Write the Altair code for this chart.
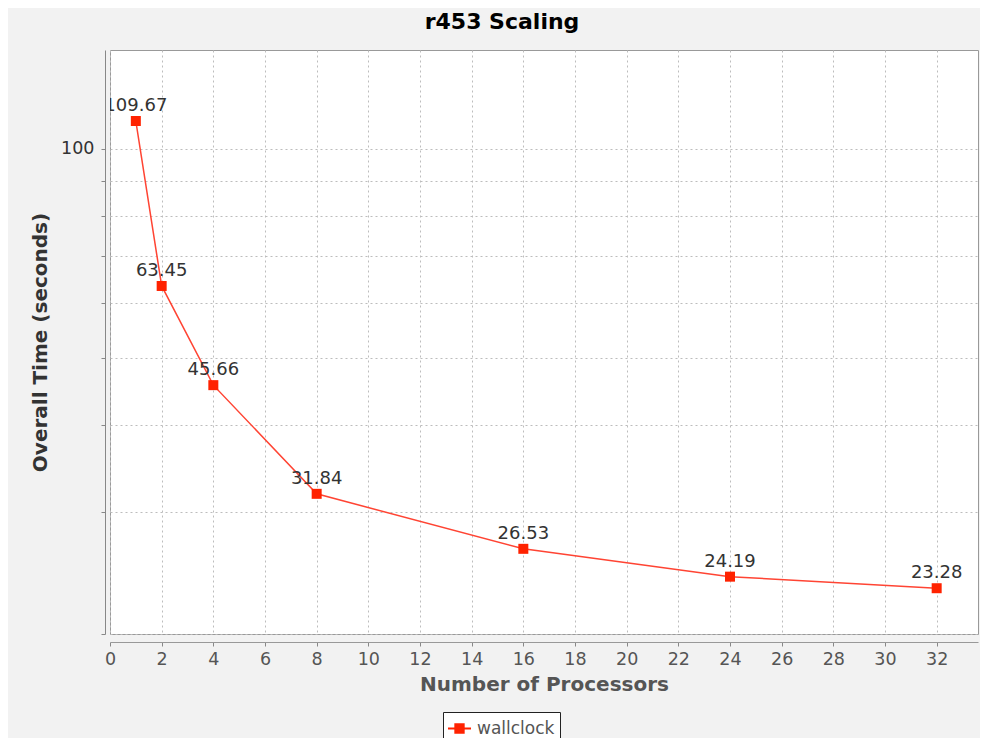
import altair as alt
import pandas as pd

# ---- data ----
processors = [1, 2, 4, 8, 16, 24, 32]
wallclock = [109.67, 63.45, 45.66, 31.84, 26.53, 24.19, 23.28]
point_labels = ["109.67", "63.45", "45.66", "31.84", "26.53", "24.19", "23.28"]
series = ["wallclock"] * len(processors)
x_ticks = list(range(0, 33, 2))
y_ticks = [20, 30, 40, 50, 60, 70, 80, 90, 100]

df = pd.DataFrame({
    "procs": processors,
    "time": wallclock,
    "label": point_labels,
    "series": series,
})

RED = "#ff2200"
LINE = "#ff4433"
FONT = "DejaVu Sans"

x = alt.X(
    "procs:Q",
    scale=alt.Scale(domain=[0, 33.6], nice=False, zero=False),
    axis=alt.Axis(
        title="Number of Processors", values=x_ticks, offset=8, tickSize=4,
        tickColor="#888888", domainColor="#999999", labelPadding=4,
        labelFlush=False, labelBound=False,
        labelFontSize=17.5, labelColor="#555555", labelFont=FONT,
        titleFont=FONT, titleFontSize=20, titleFontWeight="bold",
        titleColor="#555555", titlePadding=7,
        gridDash=[2, 3], gridColor="#bdbdbd", gridWidth=1,
    ),
)
y = alt.Y(
    "time:Q",
    scale=alt.Scale(type="log", domain=[20, 138.8], nice=False),
    axis=alt.Axis(
        title="Overall Time (seconds)", values=y_ticks,
        labelExpr="datum.value == 100 ? '100' : ''", labelOverlap=False,
        labelFlush=False, labelBound=False,
        offset=5, tickSize=4, tickColor="#888888", domainColor="#888888",
        labelPadding=7, labelFontSize=17.5, labelColor="#333333", labelFont=FONT,
        titleFont=FONT, titleFontSize=20, titleFontWeight="bold",
        titleColor="#333333", titlePadding=10,
        gridDash=[2, 3], gridColor="#bdbdbd", gridWidth=1,
    ),
)

base = alt.Chart(df).encode(x=x, y=y)

line = base.mark_line(color=LINE, strokeWidth=1.5)

points = base.mark_point(shape="square", filled=True, size=100, opacity=1).encode(
    color=alt.Color(
        "series:N",
        scale=alt.Scale(range=[RED]),
        legend=alt.Legend(
            title=None, orient="none", legendX=333, legendY=662,
            symbolType="M-1,-0.09H1V0.09H-1Z M-0.45,-0.45H0.45V0.45H-0.45Z",
            symbolSize=529, symbolStrokeWidth=0, symbolOpacity=1,
            labelFontSize=17, labelColor="#555555", labelFont=FONT, labelOffset=6,
            padding=5, strokeColor="#222222", fillColor="white", cornerRadius=0,
        ),
    )
)

text = base.mark_text(
    dy=-10, baseline="alphabetic", fontSize=18, color="#333333", font=FONT, clip=True
).encode(text="label:N")

chart = (
    alt.layer(line, points, text)
    .properties(
        width=868,
        height=584,
        title=alt.TitleParams(
            "r453 Scaling", fontSize=22, fontWeight="bold", color="#000000",
            font=FONT, anchor="middle", dx=-42, offset=16, frame="group",
        ),
        autosize=alt.AutoSizeParams(type="none"),
        padding={"left": 102, "top": 42, "right": 2, "bottom": 104},
        background="#f2f2f2",
    )
    .configure_view(fill="white", stroke="#999999", strokeWidth=1)
)

chart.save("out.html", embed_options={"renderer": "svg", "actions": False})
